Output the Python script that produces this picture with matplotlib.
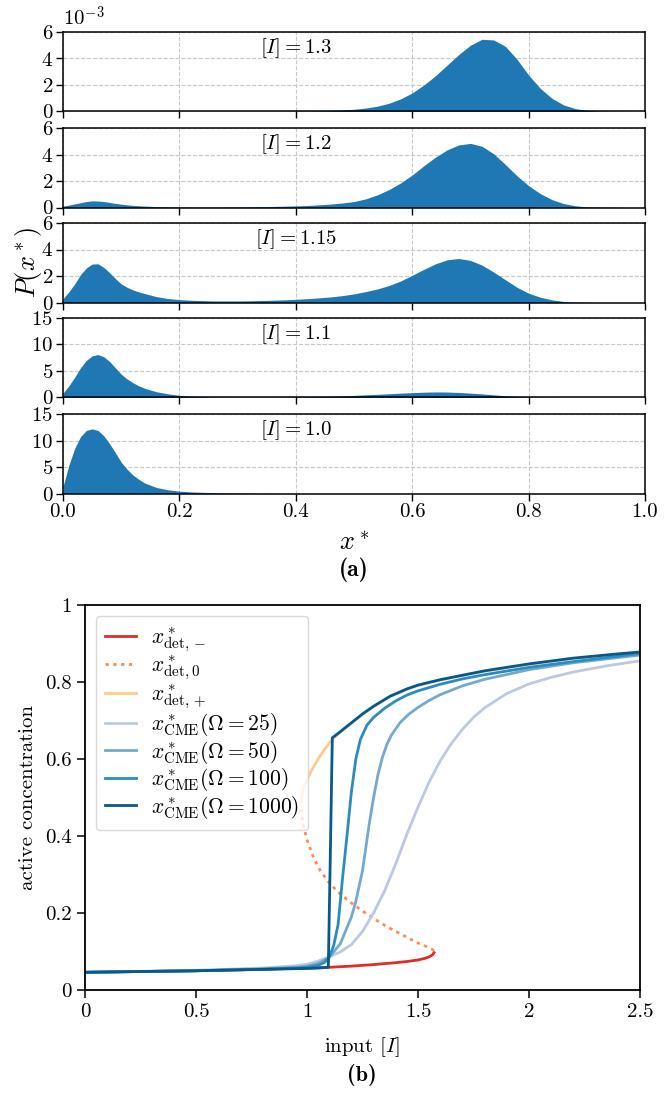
import matplotlib
matplotlib.use("Agg")
import matplotlib.pyplot as plt

plt.rcParams['font.family'] = 'serif'
plt.rcParams['font.serif'] = ['cmr10', 'DejaVu Serif']
plt.rcParams['mathtext.fontset'] = 'cm'
plt.rcParams['axes.formatter.use_mathtext'] = True
plt.rcParams['axes.unicode_minus'] = False

# --- (a) stationary distributions P(x*) ---
x_grid = [0.00, 0.01, 0.02, 0.03, 0.04, 0.05, 0.06, 0.07, 0.08, 0.09, 0.10,
          0.11, 0.12, 0.13, 0.14, 0.16, 0.18, 0.20, 0.22, 0.24, 0.26, 0.28, 0.30,
          0.32, 0.34, 0.36, 0.38, 0.40, 0.42, 0.44, 0.46, 0.48, 0.50,
          0.52, 0.54, 0.56, 0.58, 0.60, 0.62, 0.64, 0.66, 0.68, 0.70,
          0.72, 0.74, 0.76, 0.78, 0.80, 0.82, 0.84, 0.86, 0.88, 0.90,
          0.92, 0.94, 0.96, 0.98, 1.00]

# values in units of 1e-3 for the first three panels
p_13 = [0.02, 0.02, 0.02, 0.02, 0.02, 0.02, 0.02, 0.02, 0.02, 0.02, 0.02,
        0.02, 0.02, 0.02, 0.02, 0.02, 0.02, 0.02, 0.02, 0.02, 0.02, 0.02, 0.02,
        0.02, 0.02, 0.02, 0.02, 0.03, 0.04, 0.05, 0.07, 0.11, 0.17,
        0.26, 0.40, 0.62, 0.95, 1.40, 2.00, 2.70, 3.50, 4.30, 5.00,
        5.45, 5.40, 4.92, 3.95, 2.75, 1.75, 1.00, 0.50, 0.22, 0.09,
        0.04, 0.02, 0.01, 0.00, 0.00]
p_12 = [0.10, 0.18, 0.27, 0.36, 0.45, 0.50, 0.49, 0.45, 0.38, 0.31, 0.25,
        0.20, 0.16, 0.13, 0.11, 0.07, 0.05, 0.04, 0.03, 0.03, 0.03, 0.03, 0.04,
        0.05, 0.06, 0.08, 0.10, 0.12, 0.15, 0.20, 0.26, 0.34, 0.45,
        0.65, 0.95, 1.35, 1.85, 2.45, 3.15, 3.80, 4.35, 4.72, 4.84,
        4.62, 4.05, 3.25, 2.40, 1.65, 1.05, 0.60, 0.30, 0.13, 0.05,
        0.03, 0.02, 0.01, 0.00, 0.00]
p_115 = [0.28, 0.80, 1.40, 2.10, 2.60, 2.90, 2.92, 2.65, 2.25, 1.80, 1.40,
         1.15, 0.95, 0.80, 0.68, 0.45, 0.30, 0.22, 0.17, 0.14, 0.12, 0.12, 0.12,
         0.13, 0.15, 0.17, 0.20, 0.24, 0.29, 0.35, 0.42, 0.52, 0.65,
         0.82, 1.02, 1.28, 1.62, 2.05, 2.50, 2.92, 3.22, 3.32, 3.18,
         2.82, 2.30, 1.72, 1.15, 0.70, 0.40, 0.20, 0.08, 0.03, 0.01,
         0.00, 0.00, 0.00, 0.00, 0.00]
p_11 = [0.8, 2.2, 3.8, 5.6, 7.0, 7.85, 8.1, 7.7, 6.8, 5.6, 4.4,
        3.5, 2.8, 2.2, 1.75, 1.1, 0.7, 0.4, 0.25, 0.15, 0.10, 0.07, 0.05,
        0.05, 0.05, 0.06, 0.08, 0.10, 0.13, 0.17, 0.22, 0.30, 0.40,
        0.50, 0.60, 0.70, 0.82, 0.92, 1.00, 1.05, 1.03, 0.95, 0.83,
        0.68, 0.50, 0.32, 0.18, 0.10, 0.05, 0.03, 0.01, 0.00, 0.00,
        0.00, 0.00, 0.00, 0.00, 0.00]
p_10 = [1.3, 5.3, 8.5, 10.7, 11.9, 12.2, 11.9, 10.9, 9.4, 7.7, 5.9,
        4.6, 3.5, 2.7, 2.0, 1.15, 0.70, 0.44, 0.30, 0.22, 0.16, 0.10, 0.07,
        0.05, 0.03, 0.02, 0.01, 0.00, 0.00, 0.00, 0.00, 0.00, 0.00,
        0.00, 0.00, 0.00, 0.00, 0.00, 0.00, 0.00, 0.00, 0.00, 0.00,
        0.00, 0.00, 0.00, 0.00, 0.00, 0.00, 0.00, 0.00, 0.00, 0.00,
        0.00, 0.00, 0.00, 0.00, 0.00]

panels = [(p_13, r'$[I]=1.3$', 6, [0, 2, 4, 6]),
          (p_12, r'$[I]=1.2$', 6, [0, 2, 4, 6]),
          (p_115, r'$[I]=1.15$', 6, [0, 2, 4, 6]),
          (p_11, r'$[I]=1.1$', 15, [0, 5, 10, 15]),
          (p_10, r'$[I]=1.0$', 15, [0, 5, 10, 15])]

# --- (b) bifurcation diagram ---
I_minus = [0, 0.25, 0.5, 0.75, 1.0, 1.1, 1.2, 1.3, 1.4, 1.45, 1.5, 1.53, 1.55, 1.565, 1.572]
x_minus = [0.046, 0.048, 0.050, 0.053, 0.057, 0.059, 0.062, 0.066, 0.071, 0.074, 0.078, 0.082, 0.086, 0.091, 0.097]

I_zero = [1.572, 1.55, 1.5, 1.45, 1.4, 1.35, 1.3, 1.25, 1.2, 1.15, 1.1, 1.06, 1.03, 1.0, 0.985, 0.975, 0.972]
x_zero = [0.103, 0.110, 0.122, 0.137, 0.152, 0.168, 0.186, 0.205, 0.226, 0.249, 0.278, 0.310, 0.343, 0.390, 0.425, 0.460, 0.480]

I_plus = [0.972, 0.975, 0.985, 1.0, 1.02, 1.05, 1.08, 1.11, 1.15, 1.2, 1.25, 1.3, 1.374, 1.45, 1.5,
          1.6, 1.674, 1.8, 2.0, 2.2, 2.4, 2.5]
x_plus = [0.480, 0.500, 0.525, 0.546, 0.570, 0.600, 0.626, 0.648, 0.670, 0.693, 0.716, 0.736, 0.762, 0.781, 0.791,
          0.805, 0.814, 0.828, 0.846, 0.861, 0.872, 0.877]

I_c1000 = [0, 0.25, 0.5, 0.75, 1.0, 1.05, 1.096, 1.105, 1.114, 1.15, 1.2, 1.25, 1.3, 1.374, 1.45, 1.5,
           1.6, 1.8, 2.0, 2.2, 2.4, 2.5]
x_c1000 = [0.046, 0.048, 0.050, 0.053, 0.056, 0.057, 0.059, 0.35, 0.655, 0.671, 0.694, 0.717, 0.737, 0.763, 0.782, 0.792,
           0.806, 0.829, 0.847, 0.862, 0.873, 0.878]

I_c100 = [0, 0.5, 0.8, 0.95, 1.0, 1.05, 1.08, 1.1, 1.12, 1.14, 1.16, 1.18, 1.2, 1.22, 1.24,
          1.27, 1.3, 1.35, 1.4, 1.45, 1.5, 1.6, 1.7, 1.8, 2.0, 2.2, 2.5]
x_c100 = [0.046, 0.050, 0.054, 0.057, 0.059, 0.064, 0.072, 0.085, 0.115, 0.170, 0.290, 0.400, 0.515, 0.600, 0.650,
          0.688, 0.708, 0.732, 0.751, 0.766, 0.777, 0.794, 0.808, 0.819, 0.838, 0.853, 0.874]

I_c50 = [0, 0.5, 0.8, 0.95, 1.0, 1.05, 1.1, 1.15, 1.2, 1.22, 1.25, 1.28, 1.3, 1.32, 1.34, 1.36,
         1.38, 1.42, 1.46, 1.5, 1.55, 1.6, 1.7, 1.8, 2.0, 2.2, 2.5]
x_c50 = [0.046, 0.050, 0.055, 0.059, 0.062, 0.069, 0.085, 0.120, 0.190, 0.230, 0.310, 0.430, 0.500, 0.560, 0.605, 0.638,
         0.662, 0.695, 0.717, 0.734, 0.752, 0.767, 0.790, 0.807, 0.832, 0.850, 0.870]

I_c25 = [0, 0.5, 0.8, 0.95, 1.0, 1.05, 1.1, 1.15, 1.2, 1.25, 1.3, 1.35, 1.4, 1.45, 1.5,
         1.55, 1.6, 1.65, 1.7, 1.75, 1.8, 1.9, 2.0, 2.1, 2.2, 2.35, 2.5]
x_c25 = [0.046, 0.051, 0.057, 0.063, 0.067, 0.075, 0.086, 0.099, 0.118, 0.152, 0.200, 0.258, 0.328, 0.405, 0.475,
         0.540, 0.595, 0.640, 0.677, 0.708, 0.733, 0.770, 0.795, 0.812, 0.826, 0.842, 0.855]

W, H = 670, 1093
fig = plt.figure(figsize=(W / 100, H / 100), dpi=100)

def rect(left, top, right, bottom):
    return [left / W, 1 - bottom / H, (right - left) / W, (bottom - top) / H]

tops = [32, 128, 223, 318, 414]
fs = 15
for k, (p, lab, ymax, yt) in enumerate(panels):
    ax = fig.add_axes(rect(63, tops[k], 645, tops[k] + 79.5))
    ax.fill_between(x_grid, 0, p, color='#1f77b4', lw=0)
    ax.set_xlim(0, 1)
    ax.set_ylim(0, ymax)
    ax.set_yticks(yt)
    ax.set_xticks([0, 0.2, 0.4, 0.6, 0.8, 1.0])
    ax.grid(True, ls='--', color='#c8c8c8', lw=0.8)
    ax.set_axisbelow(True)
    ax.tick_params(labelsize=fs, length=5, width=1, direction='out', pad=2)
    if k < 4:
        ax.tick_params(labelbottom=False)
    else:
        ax.set_xticklabels(['0.0', '0.2', '0.4', '0.6', '0.8', '1.0'])
    ax.text(0.4, 0.8, lab, transform=ax.transAxes, ha='center', va='center', fontsize=fs)
    for s in ax.spines.values():
        s.set_linewidth(1.1)
    if k == 0:
        ax.text(0.0, 1.03, r'$10^{-3}$', transform=ax.transAxes, ha='left', va='bottom', fontsize=fs)

fig.text(28 / W, 1 - 262 / H, r'$P(x^*)$', rotation=90, ha='center', va='center', fontsize=19)
fig.text(354 / W, 1 - 543 / H, r'$x^*$', ha='center', va='center', fontsize=19)
fig.text(354 / W, 1 - 570 / H, '(a)', ha='center', va='center', fontsize=17, family='cmb10')

ax = fig.add_axes(rect(85, 605, 640, 990))
lw = 2.0
ax.plot(I_minus, x_minus, color='#de2d26', lw=lw, label=r'$x^*_{\rm det,-}$')
ax.plot(I_zero, x_zero, color='#fc8d59', lw=lw, ls=(0, (1.2, 1.6)), label=r'$x^*_{\rm det,0}$')
ax.plot(I_plus, x_plus, color='#fdcc8a', lw=lw, label=r'$x^*_{\rm det,+}$')
ax.plot(I_c25, x_c25, color='#bdc9e1', lw=lw, label=r'$x^*_{\rm CME}(\Omega=25)$')
ax.plot(I_c50, x_c50, color='#74a9cf', lw=lw, label=r'$x^*_{\rm CME}(\Omega=50)$')
ax.plot(I_c100, x_c100, color='#2b8cbe', lw=lw, label=r'$x^*_{\rm CME}(\Omega=100)$')
ax.plot(I_c1000, x_c1000, color='#045a8d', lw=lw, label=r'$x^*_{\rm CME}(\Omega=1000)$')
ax.set_xlim(0, 2.5)
ax.set_ylim(0, 1)
ax.set_xticks([0, 0.5, 1, 1.5, 2, 2.5])
ax.set_xticklabels(['0', '0.5', '1', '1.5', '2', '2.5'])
ax.set_yticks([0, 0.2, 0.4, 0.6, 0.8, 1])
ax.set_yticklabels(['0', '0.2', '0.4', '0.6', '0.8', '1'])
ax.tick_params(labelsize=fs, length=6, width=1.1, direction='out')
for s in ax.spines.values():
    s.set_linewidth(1.3)
ax.set_ylabel('active concentration', fontsize=fs, labelpad=6)
ax.legend(loc='upper left', fontsize=15.5, frameon=True, handlelength=1.4, handletextpad=0.7,
          labelspacing=0.02, borderpad=0.45, framealpha=0.8, edgecolor='#d0d0d0')

fig.text(362 / W, 1 - 1047 / H, r'input $[I]$', ha='center', va='center', fontsize=fs)
fig.text(362 / W, 1 - 1075 / H, '(b)', ha='center', va='center', fontsize=16, family='cmb10')

fig.savefig('out.png', dpi=100)
